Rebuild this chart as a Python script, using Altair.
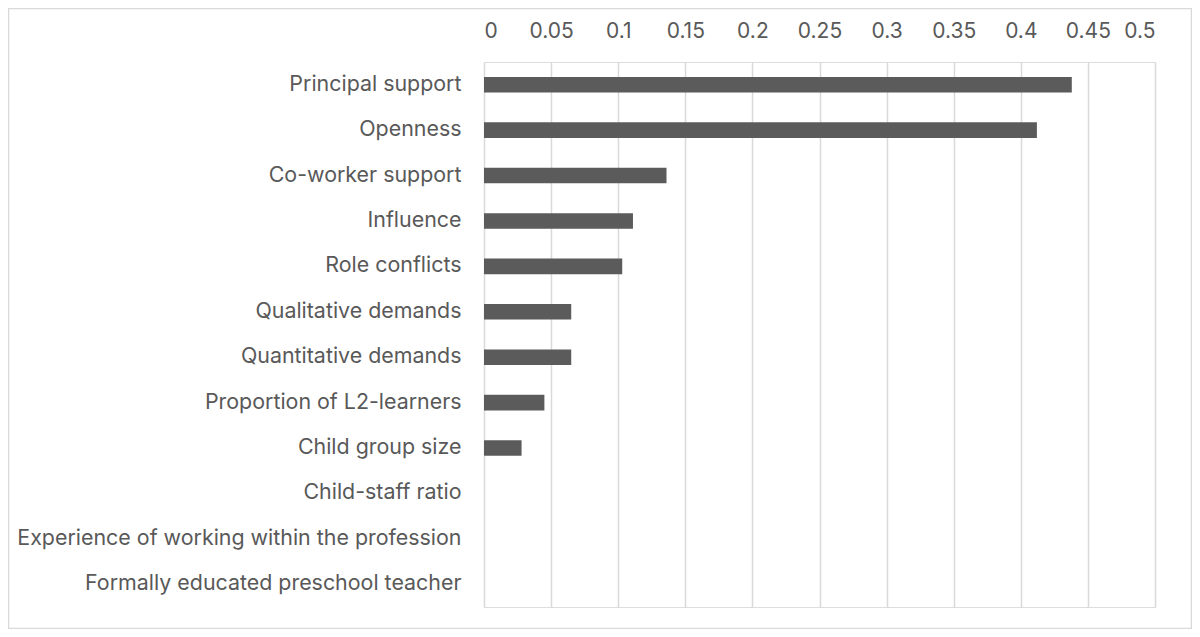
import altair as alt
import pandas as pd

categories = [
    "Principal support",
    "Openness",
    "Co-worker support",
    "Influence",
    "Role conflicts",
    "Qualitative demands",
    "Quantitative demands",
    "Proportion of L2-learners",
    "Child group size",
    "Child-staff ratio",
    "Experience of working within the profession",
    "Formally educated preschool teacher",
]
values = [0.438, 0.412, 0.136, 0.111, 0.103, 0.065, 0.065, 0.045, 0.028, 0.0, 0.0, 0.0]
tick_values = [0, 0.05, 0.1, 0.15, 0.2, 0.25, 0.3, 0.35, 0.4, 0.45, 0.5]

df = pd.DataFrame({"category": categories, "value": values})

FONT = "Inter"
TEXT = "#595959"

bars = alt.Chart(df).mark_bar(color="#5b5b5b").encode(
    x=alt.X(
        "value:Q",
        scale=alt.Scale(domain=[0, 0.5], nice=False),
        axis=alt.Axis(
            orient="top",
            values=tick_values,
            format="~g",
            title=None,
            domain=False,
            ticks=False,
            labelPadding=21,
            labelFontSize=21,
            labelColor=TEXT,
            labelFont=FONT,
            grid=True,
            gridColor="#d9d9d9",
            gridWidth=1.5,
        ),
    ),
    y=alt.Y(
        "category:N",
        sort=categories,
        scale=alt.Scale(paddingInner=0.656, paddingOuter=0.328),
        axis=alt.Axis(
            title=None,
            domain=False,
            ticks=False,
            grid=False,
            labelPadding=23,
            labelFontSize=21.4,
            labelColor=TEXT,
            labelFont=FONT,
            labelLimit=600,
        ),
    ),
)

border = alt.Chart(pd.DataFrame({"a": [0]})).mark_rect(
    fill=None, stroke="#d9d9d9", strokeWidth=1.5
).encode(
    x=alt.value(-475.5),
    x2=alt.value(707.5),
    y=alt.value(-53.5),
    y2=alt.value(566.5),
)

chart = alt.layer(border, bars).properties(
    width=671,
    height=545,
    autosize=alt.AutoSizeParams(type="none"),
    padding={"left": 476, "top": 54, "right": 37, "bottom": 22},
).configure_view(stroke="transparent", strokeWidth=0).configure(background="white")

chart.save("out.html", embed_options={"renderer": "svg", "actions": False})
